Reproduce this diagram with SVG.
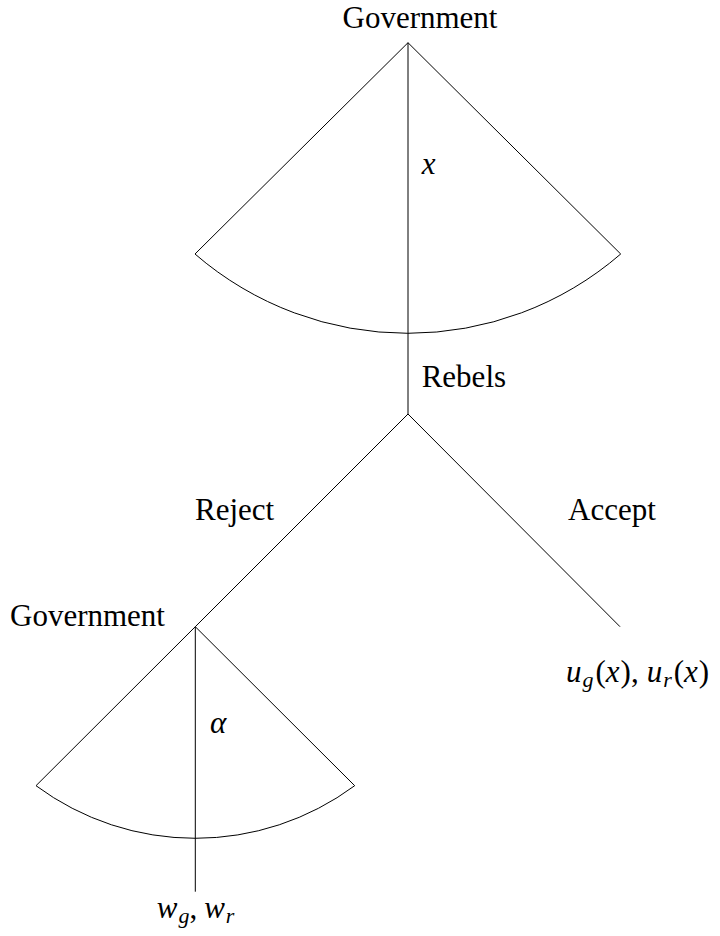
<svg xmlns="http://www.w3.org/2000/svg" width="720" height="936" viewBox="0 0 720 936">
<style>
.ln{fill:none;stroke:#000;stroke-width:1}
.t{font-family:'Liberation Serif','DejaVu Serif',serif;font-size:31px;fill:#000}
.m{font-family:'Liberation Serif','DejaVu Serif',serif;font-size:31px;fill:#000}
.i{font-style:italic}
.s{font-size:22px;font-style:italic}
</style>
<rect width="720" height="936" fill="#fff"/>
<g id="connectors">
<line class="ln" x1="408" y1="42.7" x2="408" y2="414"/>
<line class="ln" x1="408" y1="414" x2="195.3" y2="626.7"/>
<line class="ln" x1="408" y1="414" x2="620" y2="626.7"/>
<line class="ln" x1="195.3" y1="626.7" x2="195.3" y2="891.7"/>
</g>
<g id="gov-top">
<path class="ln" d="M195 254 L408 42.7 L620.7 254 A325.3 325.3 0 0 1 195 254 Z"/>
<text class="t" x="420" y="28" text-anchor="middle" font-family="Liberation Serif">Government</text>
<text class="m i" x="421.7" y="174" font-family="Liberation Serif">x</text>
</g>
<g id="rebels">
<text class="t" x="421.7" y="386.7" font-family="Liberation Serif">Rebels</text>
<text class="t" x="195" y="520" font-family="Liberation Serif">Reject</text>
<text class="t" x="568" y="520" font-family="Liberation Serif">Accept</text>
</g>
<g id="gov-bottom">
<path class="ln" d="M36 785.7 L195.3 626.7 L354.7 785.7 A267.7 267.7 0 0 1 36 785.7 Z"/>
<text class="t" x="10" y="626" font-family="Liberation Serif">Government</text>
<text class="m i" x="210" y="732.7" font-family="Liberation Serif" font-size="32">α</text>
</g>
<g id="outcome-accept">
<text class="m" x="566" y="681.7" font-family="Liberation Serif" font-size="32"><tspan class="i">u</tspan><tspan class="s" dy="5" dx="1">g</tspan><tspan dy="-5" dx="2">(</tspan><tspan class="i">x</tspan><tspan dx="1">),</tspan><tspan class="i" dx="8">u</tspan><tspan class="s" dy="5" dx="1">r</tspan><tspan dy="-5" dx="2">(</tspan><tspan class="i">x</tspan><tspan dx="1">)</tspan></text>
</g>
<g id="outcome-reject">
<text class="m" x="156.7" y="918" font-family="Liberation Serif"><tspan class="i">w</tspan><tspan class="s" dy="5" dx="1">g</tspan><tspan dy="-5">,</tspan><tspan class="i" dx="7">w</tspan><tspan class="s" dy="5" dx="1">r</tspan></text>
</g>
</svg>
